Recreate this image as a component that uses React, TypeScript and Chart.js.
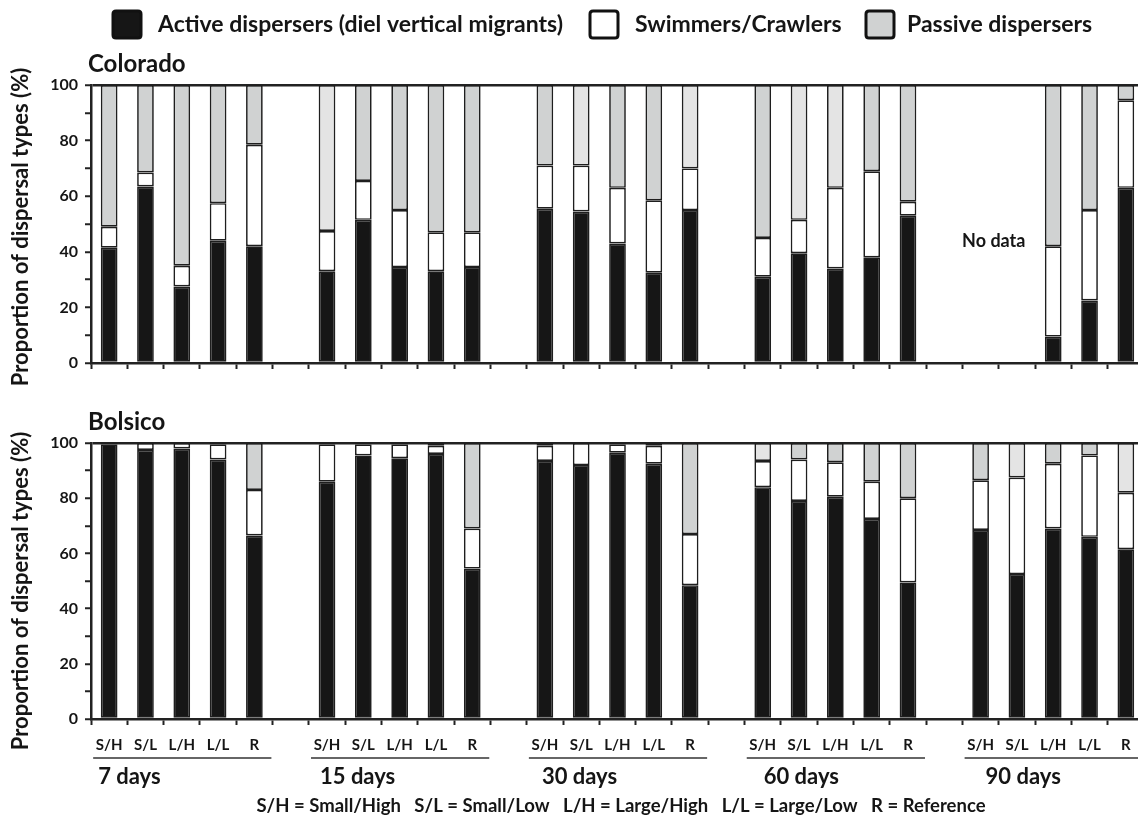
import React, { useEffect, useRef } from "react";
import { Chart, registerables } from "chart.js";

Chart.register(...registerables);

const treatments = ["S/H", "S/L", "L/H", "L/L", "R"];
const periods = ["7 days", "15 days", "30 days", "60 days", "90 days"];
const seriesNames = [
  "Active dispersers (diel vertical migrants)",
  "Swimmers/Crawlers",
  "Passive dispersers",
];
const labeledYTicks = [0, 20, 40, 60, 80, 100];
const yTitle = "Proportion of dispersal types (%)";
const footnote = "S/H = Small/High   S/L = Small/Low   L/H = Large/High   L/L = Large/Low   R = Reference";
const noDataText = "No data";

// Colorado (values in %, per period: S/H, S/L, L/H, L/L, R)
const coloradoActive = [41.5, 63.5, 27.5, 44, 42, 33, 51.5, 34.5, 33, 34.5, 55.5, 54.5, 43, 32.5, 55, 31, 39.5, 34, 38, 53, null, null, 9.5, 22.5, 63];
const coloradoSwim = [7.5, 5, 7.5, 13.5, 36.5, 14.5, 14, 20.5, 14, 12.5, 15.5, 16.5, 20, 26, 15, 14, 12, 29, 31, 5, null, null, 32.5, 32.5, 31.5];
const coloradoPassive = [51, 31.5, 65, 42.5, 21.5, 52.5, 34.5, 45, 53, 53, 29, 29, 37, 41.5, 30, 55, 48.5, 37, 31, 42, null, null, 58, 45, 5.5];

// Bolsico
const bolsicoActive = [99.5, 97.5, 98, 94, 66.5, 86, 95.5, 94.5, 96, 54.5, 93.5, 92, 96.5, 92.5, 48.5, 84, 79, 80.5, 72.5, 49.5, 68.5, 52.5, 69, 66, 61.5];
const bolsicoSwim = [0.5, 2.5, 2, 5.5, 16.5, 13.5, 4, 5, 3, 14.5, 5.5, 8, 3, 6.5, 18.5, 9.5, 15, 12.5, 13.5, 30.5, 18, 35, 23.5, 29.5, 20.5];
const bolsicoPassive = [0, 0, 0, 0.5, 17, 0.5, 0.5, 0.5, 1, 31, 1, 0, 0.5, 1, 33, 6.5, 6, 7, 14, 20, 13.5, 12.5, 7.5, 4.5, 18];

// style: shade of the passive segment (M = medium grey, L = light grey)
const coloradoShade = ["M", "M", "M", "M", "M", "L", "M", "M", "M", "M", "M", "L", "M", "M", "L", "M", "L", "L", "M", "M", "M", "M", "M", "M", "M"];
const bolsicoShade = ["M", "M", "M", "M", "M", "M", "M", "M", "M", "M", "M", "M", "M", "M", "M", "L", "M", "M", "M", "M", "M", "L", "M", "M", "L"];

const FAMILY = "Lato, 'Open Sans', sans-serif";
const INK = "#151515";
const BLACK = "#161616";
const MEDIUM = "#d0d2d2";
const LIGHT = "#e4e4e4";

function withGaps<T>(arr: T[], gap: T): T[] {
  const out: T[] = [];
  arr.forEach((v, i) => {
    if (i > 0 && i % 5 === 0) out.push(gap);
    out.push(v);
  });
  return out;
}

const labels = withGaps(
  periods.flatMap(() => treatments),
  ""
);

function drawYTitle(ctx: any, cy: number) {
  ctx.save();
  ctx.translate(21, cy);
  ctx.rotate(-Math.PI / 2);
  ctx.fillStyle = INK;
  ctx.font = `bold 22px ${FAMILY}`;
  ctx.textAlign = "center";
  ctx.textBaseline = "middle";
  ctx.fillText(yTitle, 0, 0);
  ctx.restore();
}

function makeConfig(
  active: (number | null)[],
  swim: (number | null)[],
  passive: (number | null)[],
  shade: string[],
  isBottom: boolean,
  extra: any
) {
  const common = {
    borderColor: "#1e1e1e",
    borderWidth: 1.7,
    borderSkipped: false,
    barPercentage: 0.46,
    categoryPercentage: 1,
  };
  return {
    type: "bar",
    data: {
      labels,
      datasets: [
        { label: seriesNames[0], data: withGaps(active, null), backgroundColor: BLACK, ...common },
        { label: seriesNames[1], data: withGaps(swim, null), backgroundColor: "#ffffff", ...common },
        {
          label: seriesNames[2],
          data: withGaps(passive, null),
          backgroundColor: withGaps(shade.map((s) => (s === "L" ? LIGHT : MEDIUM)), MEDIUM),
          ...common,
        },
      ],
    },
    options: {
      animation: false,
      responsive: false,
      maintainAspectRatio: false,
      layout: { padding: { top: isBottom ? 63 : 85, left: 0, right: 0, bottom: 0 } },
      plugins: {
        legend: { display: false },
        title: { display: false },
        tooltip: { enabled: false },
      },
      scales: {
        x: {
          stacked: true,
          offset: true,
          grid: {
            display: true,
            offset: true,
            drawOnChartArea: false,
            drawTicks: true,
            tickLength: 6,
            tickColor: "#222",
            tickWidth: 2,
          },
          border: { display: true, color: "#222", width: 2.5 },
          ticks: {
            display: isBottom,
            autoSkip: false,
            maxRotation: 0,
            minRotation: 0,
            padding: 11,
            color: INK,
            font: { family: FAMILY, weight: "bold", size: 15 },
          },
          afterFit: (s: any) => {
            s.height = isBottom ? 100 : 37;
          },
        },
        y: {
          stacked: true,
          min: 0,
          max: 100,
          ticks: {
            stepSize: 10,
            padding: 7,
            color: INK,
            font: { family: FAMILY, weight: "bold", size: 16 },
            callback: (v: any) => (labeledYTicks.includes(Number(v)) ? String(v) : ""),
          },
          grid: {
            display: true,
            drawTicks: true,
            tickLength: 6,
            lineWidth: 2.5,
            tickWidth: 2,
            tickColor: "#222",
            color: (ctx: any) => (ctx.tick && ctx.tick.value === 100 ? "#222" : "rgba(0,0,0,0)"),
          },
          border: { display: true, color: "#222", width: 2.5 },
          title: { display: false },
          afterFit: (s: any) => {
            s.width = 91;
          },
        },
      },
    },
    plugins: [extra],
  };
}

const topDecor = {
  id: "topDecor",
  afterDraw(chart: any) {
    const ctx = chart.ctx;
    ctx.save();
    // legend
    const items = [
      { box: 113, text: 158, fill: BLACK },
      { box: 590, text: 635, fill: "#ffffff" },
      { box: 866, text: 907, fill: MEDIUM },
    ];
    ctx.font = `bold 23px ${FAMILY}`;
    ctx.textBaseline = "middle";
    ctx.textAlign = "left";
    items.forEach((it, i) => {
      ctx.fillStyle = it.fill;
      ctx.strokeStyle = "#111";
      ctx.lineWidth = 3;
      ctx.beginPath();
      const r = 3;
      const x = it.box, y = 11, w = 28, h = 27;
      ctx.moveTo(x + r, y);
      ctx.lineTo(x + w - r, y);
      ctx.quadraticCurveTo(x + w, y, x + w, y + r);
      ctx.lineTo(x + w, y + h - r);
      ctx.quadraticCurveTo(x + w, y + h, x + w - r, y + h);
      ctx.lineTo(x + r, y + h);
      ctx.quadraticCurveTo(x, y + h, x, y + h - r);
      ctx.lineTo(x, y + r);
      ctx.quadraticCurveTo(x, y, x + r, y);
      ctx.closePath();
      ctx.fill();
      ctx.stroke();
      ctx.fillStyle = INK;
      ctx.fillText(seriesNames[i], it.text, 25);
    });
    // panel title
    ctx.font = `bold 24px ${FAMILY}`;
    ctx.textBaseline = "alphabetic";
    ctx.fillText("Colorado", 88, 72);
    // no data note
    const xs = chart.scales.x;
    const cx = (xs.getPixelForValue(24) + xs.getPixelForValue(25)) / 2 - 5;
    ctx.font = `bold 18px ${FAMILY}`;
    ctx.textAlign = "center";
    ctx.textBaseline = "middle";
    ctx.fillText(noDataText, cx, 241);
    ctx.restore();
    drawYTitle(ctx, 227);
  },
};

const bottomDecor = {
  id: "bottomDecor",
  afterDraw(chart: any) {
    const ctx = chart.ctx;
    const xs = chart.scales.x;
    ctx.save();
    ctx.fillStyle = INK;
    ctx.font = `bold 24px ${FAMILY}`;
    ctx.textAlign = "left";
    ctx.textBaseline = "alphabetic";
    ctx.fillText("Bolsico", 88, 50);
    periods.forEach((p, g) => {
      const first = xs.getPixelForValue(g * 6);
      const last = xs.getPixelForValue(g * 6 + 4);
      ctx.strokeStyle = "#333";
      ctx.lineWidth = 1.5;
      ctx.beginPath();
      ctx.moveTo(first - 16, 378);
      ctx.lineTo(last + 17, 378);
      ctx.stroke();
      ctx.font = `bold 22px ${FAMILY}`;
      ctx.textBaseline = "middle";
      ctx.fillText(p, first - 11 + g * 4, 397);
    });
    ctx.font = `bold 18.5px ${FAMILY}`;
    ctx.textAlign = "center";
    ctx.textBaseline = "middle";
    ctx.fillText(footnote, 621, 426);
    ctx.restore();
    drawYTitle(ctx, 211);
  },
};

function Panel({ top, height, cfg }: { top: number; height: number; cfg: any }) {
  const ref = useRef<HTMLCanvasElement | null>(null);
  useEffect(() => {
    if (!ref.current) return;
    const chart = new Chart(ref.current, cfg);
    return () => chart.destroy();
  }, []);
  return (
    <canvas
      ref={ref}
      width={1144}
      height={height}
      style={{ position: "absolute", left: 0, top, width: 1144, height }}
    />
  );
}

export default function App() {
  const topCfg = makeConfig(coloradoActive, coloradoSwim, coloradoPassive, coloradoShade, false, topDecor);
  const bottomCfg = makeConfig(bolsicoActive, bolsicoSwim, bolsicoPassive, bolsicoShade, true, bottomDecor);
  return (
    <div
      style={{
        position: "absolute",
        left: 0,
        top: 0,
        width: 1138,
        height: 819,
        overflow: "hidden",
        background: "#ffffff",
      }}
    >
      <Panel top={0} height={400} cfg={topCfg} />
      <Panel top={380} height={439} cfg={bottomCfg} />
    </div>
  );
}
